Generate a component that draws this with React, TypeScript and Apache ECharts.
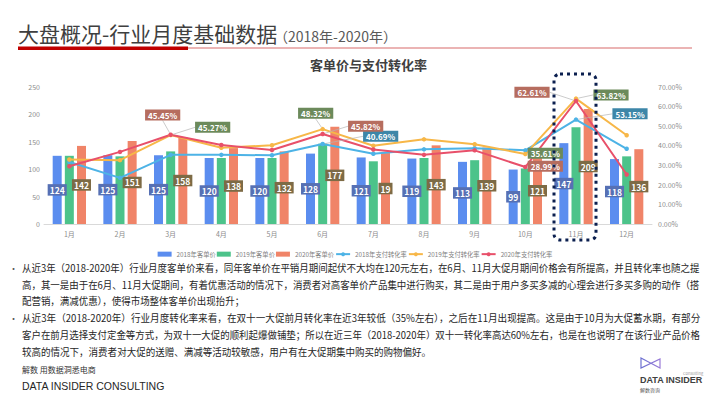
import React, { useEffect, useRef } from 'react';
import * as echarts from 'echarts';

const months = ['1月', '2月', '3月', '4月', '5月', '6月', '7月', '8月', '9月', '10月', '11月', '12月'];
const price2018 = [124, 125, 125, 120, 120, 128, 121, 119, 113, 99, 147, 118];
const price2019 = [124, 123, 132, 120, 120, 146, 114, 120, 116, 101, 176, 123];
const price2020 = [142, 151, 158, 138, 132, 177, 129, 143, 139, 121, 209, 136];
const price2020LabelText = ['142', '151', '158', '138', '132', '177', '19', '143', '139', '121', '209', '136'];
const rate2018 = [31.6, 23.5, 35.2, 35.2, 35.0, 40.69, 35.8, 38.0, 38.6, 37.5, 53.15, 38.3];
const rate2019 = [32.8, 32.5, 45.27, 38.8, 40.1, 48.32, 39.8, 43.1, 40.6, 35.61, 63.82, 45.2];
const rate2020 = [29.4, 36.7, 45.45, 40.2, 37.7, 45.82, 37.9, 35.2, 37.5, 28.99, 62.61, 25.2];
const leftTicks = { min: 0, max: 250, interval: 50 };
const rightTicks = { min: 0, max: 70, interval: 10 };
const seriesNames = ['2018年客单价', '2019年客单价', '2020年客单价', '2018年支付转化率', '2019年支付转化率', '2020年支付转化率'];

const pageTitle = '大盘概况-行业月度基础数据';
const pageSubTitle = '（2018年-2020年）';
const chartTitle = '客单价与支付转化率';
const para1 = [
  '从近3年（2018-2020年）行业月度客单价来看，同年客单价在平销月期间起伏不大均在120元左右，在6月、11月大促月期间价格会有所提高，并且转化率也随之提',
  '高，其一是由于在6月、11月大促期间，有着优惠活动的情况下，消费者对高客单价产品集中进行购买，其二是由于用户多买多减的心理会进行多买多购的动作（搭',
  '配营销，满减优惠），使得市场整体客单价出现抬升；',
];
const para2 = [
  '从近3年（2018-2020年）行业月度转化率来看，在双十一大促前月转化率在近3年较低（35%左右），之后在11月出现提高。这是由于10月为大促蓄水期，有部分',
  '客户在前月选择支付定金等方式，为双十一大促的顺利起爆做铺垫；所以在近三年（2018-2020年）双十一转化率高达60%左右，也是在也说明了在该行业产品价格',
  '较高的情况下，消费者对大促的送赠、满减等活动较敏感，用户有在大促期集中购买的购物偏好。',
];
const footer1 = '解数 用数据洞悉电商';
const footer2 = 'DATA INSIDER CONSULTING';

// label placement (offsets from default 'top' position), keyed by month index
const offs2018: Record<number, [number, number]> = { 5: [58, 5], 10: [54, 7] };
const offs2019: Record<number, [number, number]> = { 2: [42, 5], 5: [-7, -3], 9: [20, 12], 10: [35, 9] };
const offs2020: Record<number, [number, number]> = { 2: [-8, -7], 5: [43, 5], 9: [20, 12], 10: [-44, 4] };

const FONT = '"Noto Sans CJK SC", "Noto Sans", sans-serif';

export default function App() {
  const ref = useRef<HTMLDivElement>(null);
  useEffect(() => {
    const el = ref.current!;
    const chart = echarts.init(el, undefined, { renderer: 'svg' });

    const lineSeries = (name: string, data: number[], color: string, bg: string, offs: Record<number, [number, number]>) => ({
      name,
      type: 'line',
      yAxisIndex: 1,
      data: data.map((v, i) => ({ value: v, label: { show: offs[i] !== undefined } })),
      symbol: 'circle',
      symbolSize: 4.5,
      itemStyle: { color },
      lineStyle: { color, width: 2 },
      z: 3,
      label: {
        show: false,
        position: 'top',
        formatter: (p: any) => `${Number(p.value).toFixed(2)}%`,
        backgroundColor: bg,
        color: '#fff',
        fontSize: 8,
        fontWeight: 'bold',
        padding: [2, 3, 1, 3],
      },
      labelLine: { show: true, lineStyle: { color: '#b5b5b5', width: 0.7 } },
      labelLayout: (p: any) => {
        const o = offs[p.dataIndex];
        return o ? { dx: o[0], dy: o[1] } : {};
      },
    });

    const barLabel = (bg: string) => ({
      show: true,
      position: 'inside',
      backgroundColor: bg,
      color: '#fff',
      fontSize: 8.5,
      fontWeight: 'bold',
      padding: [2, 2, 1, 2],
    });

    chart.setOption({
      animation: false,
      backgroundColor: '#fff',
      textStyle: { fontFamily: FONT },
      title: {
        text: chartTitle,
        left: 310,
        top: 58,
        padding: 0,
        textStyle: { fontSize: 13, fontWeight: 'bold', color: '#404040', fontFamily: FONT },
      },
      legend: {
        top: 246,
        left: 'center',
        itemWidth: 14,
        itemHeight: 5,
        itemGap: 1,
        textStyle: { fontSize: 6.3, color: '#7f7f7f', fontFamily: FONT },
        data: seriesNames.map((n, i) => (i < 3 ? { name: n, icon: 'rect' } : { name: n })),
      },
      grid: { left: 44, right: 58, top: 86.5, bottom: 175 },
      xAxis: {
        type: 'category',
        data: months,
        axisLine: { lineStyle: { color: '#d9d9d9' } },
        axisTick: { show: false },
        axisLabel: { color: '#8c8c8c', fontSize: 7, margin: 6 },
      },
      yAxis: [
        {
          type: 'value',
          ...leftTicks,
          splitLine: { show: false },
          axisLine: { show: false },
          axisTick: { show: false },
          axisLabel: { color: '#8c8c8c', fontSize: 7, margin: 4 },
        },
        {
          type: 'value',
          ...rightTicks,
          splitLine: { show: false },
          axisLine: { show: false },
          axisTick: { show: false },
          axisLabel: { color: '#8c8c8c', fontSize: 7, margin: 6, formatter: (v: number) => `${v.toFixed(2)}%` },
        },
      ],
      series: [
        { name: seriesNames[0], type: 'bar', data: price2018, barWidth: 9, barGap: '35%', itemStyle: { color: '#5b8def' }, label: barLabel('#5670b4') },
        { name: seriesNames[1], type: 'bar', data: price2019, barWidth: 9, barGap: '35%', itemStyle: { color: '#4cc38a' } },
        {
          name: seriesNames[2], type: 'bar', data: price2020, barWidth: 9, barGap: '35%', itemStyle: { color: '#f08468' },
          label: { ...barLabel('#7d6b46'), formatter: (p: any) => price2020LabelText[p.dataIndex] },
        },
        lineSeries(seriesNames[3], rate2018, '#4db3e6', '#3d86a8', offs2018),
        lineSeries(seriesNames[4], rate2019, '#f7b748', '#6c8a5b', offs2019),
        lineSeries(seriesNames[5], rate2020, '#e8506a', '#b66d5f', offs2020),
      ],
    });

    // page graphics
    const x11 = chart.convertToPixel({ xAxisIndex: 0 }, months[10]) as number;
    const ctx = document.createElement('canvas').getContext('2d')!;
    const PF = 10;
    ctx.font = `${PF}px "Noto Sans CJK SC"`;
    const fullW = 679;
    const textLeft = 22;
    const paraEls: any[] = [];
    const addPara = (lines: string[], ys: number[]) => {
      const s1 = fullW / ctx.measureText(lines[0]).width;
      const s2 = fullW / ctx.measureText(lines[1]).width;
      const sAvg = (s1 + s2) / 2;
      [s1, s2, sAvg].forEach((s, i) => {
        paraEls.push({
          type: 'text', x: textLeft, y: ys[i], scaleX: s,
          style: { text: lines[i], fontSize: PF, fontFamily: FONT, fill: '#262626', verticalAlign: 'middle' },
        });
      });
      paraEls.push({ type: 'text', x: 9, y: ys[0], style: { text: '•', fontSize: 9, fontFamily: FONT, fill: '#555', verticalAlign: 'middle' } });
    };
    addPara(para1, [268, 285, 301]);
    addPara(para2, [318, 335, 352]);

    chart.setOption({
      graphic: [
        { type: 'text', x: 18, y: 32.5, style: { text: pageTitle, fontSize: 21, fontFamily: FONT, fill: '#3f3f3f', verticalAlign: 'middle' } },
        { type: 'text', x: 274, y: 35.5, style: { text: pageSubTitle, fontSize: 14, fontFamily: FONT, fill: '#595959', verticalAlign: 'middle' } },
        { type: 'rect', shape: { x: 18, y: 46.5, width: 170, height: 3.5 }, style: { fill: '#c00000' } },
        { type: 'rect', shape: { x: 188, y: 47.6, width: 504, height: 1 }, style: { fill: '#d86a6a' } },
        {
          type: 'rect', z: 100,
          shape: { x: x11 - 22, y: 74, width: 42, height: 166, r: 6 },
          style: { fill: 'none', stroke: '#0b1f4f', lineWidth: 3, lineDash: [3, 4] },
        },
        ...paraEls,
        { type: 'text', x: 22, y: 369, style: { text: footer1, fontSize: 8, fontFamily: FONT, fill: '#333', verticalAlign: 'middle' } },
        { type: 'text', x: 22, y: 386, style: { text: footer2, fontSize: 10.5, fontFamily: '"Liberation Sans", Arial, sans-serif', fill: '#262626', verticalAlign: 'middle' } },
        {
          type: 'polygon',
          shape: { points: [[641, 358], [660, 368], [660, 359], [641, 368]] },
          style: {
            fill: 'none', lineWidth: 1.2,
            stroke: new echarts.graphic.LinearGradient(0, 0, 1, 0, [
              { offset: 0, color: '#6a6fd0' },
              { offset: 1, color: '#9a7bd8' },
            ]),
          },
        },
        { type: 'text', x: 683, y: 373, style: { text: 'Consulting', fontSize: 4, fontFamily: FONT, fill: '#999', verticalAlign: 'middle' } },
        { type: 'text', x: 640, y: 380, style: { text: 'DATA INSIDER', fontSize: 9, fontWeight: 'bold', fontFamily: '"Liberation Sans", Arial, sans-serif', fill: '#404040', verticalAlign: 'middle' } },
        { type: 'text', x: 640, y: 389, style: { text: '解数咨询', fontSize: 5, fontFamily: FONT, fill: '#555', verticalAlign: 'middle' } },
      ],
    });

    return () => chart.dispose();
  }, []);
  return <div ref={ref} style={{ position: 'fixed', left: 0, top: 0, width: 710, height: 399, background: '#fff' }} />;
}
